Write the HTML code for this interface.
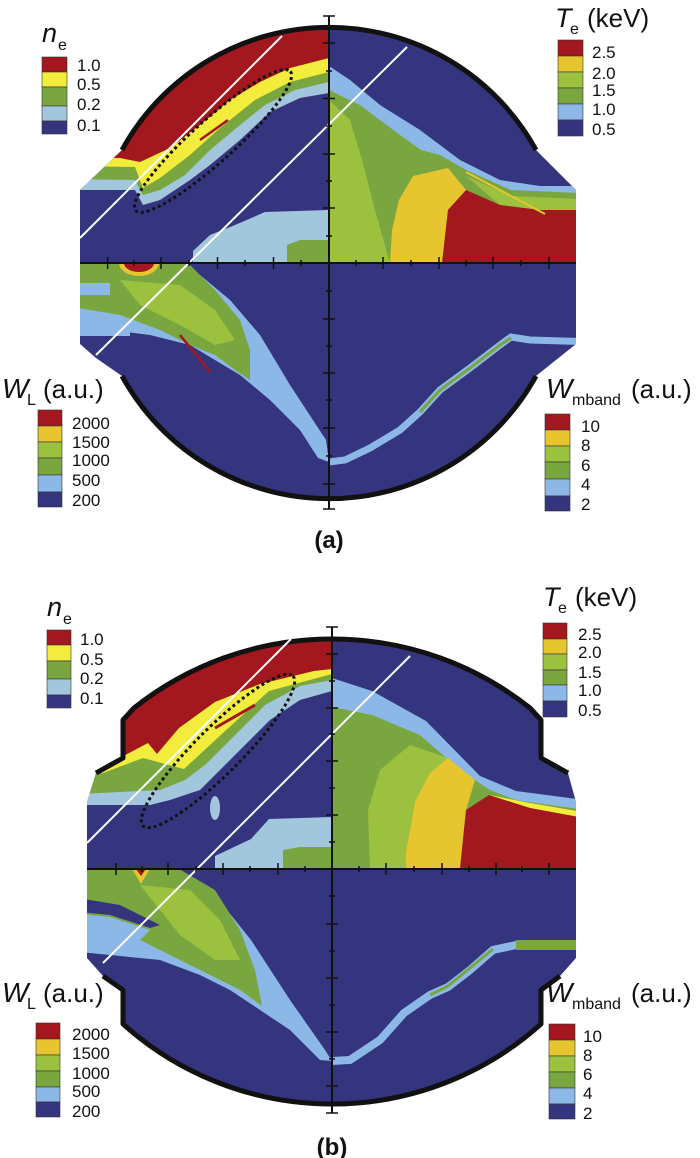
<!DOCTYPE html>
<html><head><meta charset="utf-8"><style>
html,body{margin:0;padding:0;background:#fff;}
svg{display:block;}
text{font-family:"Liberation Sans",sans-serif;fill:#111;}
</style></head><body>
<svg width="700" height="1158" viewBox="0 0 700 1158" xmlns="http://www.w3.org/2000/svg">
<defs>
<clipPath id="ca"><path d="M122,150 A236,236 0 0 1 536,150 L576,190 L576,344 L536,376 A236,236 0 0 1 122,376 L96,358 L80,344 L80,190 Z"/></clipPath>
<clipPath id="cb"><path d="M134,708 A318.6,318.6 0 0 1 530,708 L541,720 L541,758 L568,773 L576,802 L576,958 L560,976 L541,990 L541,1024 A313,313 0 0 1 123,1024 L123,990 L103,976 L87,958 L87,802 L96,773 L123,758 L123,720 Z"/></clipPath>
<clipPath id="a1"><rect x="0" y="0" width="329" height="263"/></clipPath>
<clipPath id="a2"><rect x="329" y="0" width="300" height="263"/></clipPath>
<clipPath id="a3"><rect x="0" y="263" width="329" height="300"/></clipPath>
<clipPath id="a4"><rect x="329" y="263" width="300" height="300"/></clipPath>
<clipPath id="b1"><rect x="0" y="580" width="332" height="289"/></clipPath>
<clipPath id="b2"><rect x="332" y="580" width="300" height="289"/></clipPath>
<clipPath id="b3"><rect x="0" y="869" width="332" height="289"/></clipPath>
<clipPath id="b4"><rect x="332" y="869" width="300" height="289"/></clipPath>
</defs>

<!-- ============ PANEL A ============ -->
<g clip-path="url(#ca)">
<rect x="60" y="0" width="540" height="540" fill="#35357f"/>
<g clip-path="url(#a1)">
 <polygon fill="#a2c6dc" points="60,0 329,0 329,93 300,98 270,112 240,140 210,165 190,180 160,200 143,205 135,190 60,190"/>
 <polygon fill="#7aa640" points="60,0 329,0 329,82 295,90 265,105 240,125 210,150 185,175 160,190 143,195 135,180 60,179"/>
 <polygon fill="#f2ec3c" points="60,0 329,0 329,72 290,82 255,100 220,128 190,155 160,178 143,188 135,167 60,166"/>
 <polygon fill="#a3181f" points="60,0 329,0 329,58 290,68 260,82 230,100 200,125 170,148 140,162 120,158 60,158"/>
 <line x1="200" y1="140" x2="228" y2="120" stroke="#a3181f" stroke-width="2.5"/>
 <polygon fill="#a2c6dc" points="193,263 193,251 210,235 235,225 265,212 329,210 329,263"/>
 <polygon fill="#7aa640" points="287,263 287,245 300,240 329,240 329,263"/>
</g>
<g clip-path="url(#a2)">
 <polygon fill="#8cb8e8" points="329,66 350,80 380,105 420,130 460,160 500,180 540,186 600,186 600,263 329,263"/>
 <polygon fill="#7aa640" points="329,90 360,105 400,135 421,150 440,155 466,170 511,190 600,194 600,263 329,263"/>
 <polygon fill="#9cc13f" points="329,100 350,120 362,160 375,210 390,263 329,263"/>
 <polygon fill="#9cc13f" points="466,176 511,196 600,200 600,210 540,210 500,205"/>
 <polygon fill="#e6c52f" points="390,263 392,230 399,200 413,176 448,168 466,190 448,210 442,263"/>
 <polygon fill="#a3181f" points="442,263 448,210 466,190 500,205 540,210 600,210 600,263"/>
 <line x1="466" y1="172" x2="545" y2="214" stroke="#e6c52f" stroke-width="2"/>
</g>
<g clip-path="url(#a3)">
 <polygon fill="#8cb8e8" points="60,275 200,275 230,300 260,335 290,385 326,440 329,462 318,458 300,430 270,400 240,375 215,360 190,345 150,335 110,330 60,330"/>
 <polygon fill="#7aa640" points="60,263 188,263 215,290 240,320 250,350 250,380 235,370 215,355 190,345 160,330 120,315 60,305"/>
 <polygon fill="#9cc13f" points="120,280 180,285 215,310 235,340 215,345 180,325 140,305"/>
 <rect x="60" y="283" width="50" height="12" fill="#8cb8e8"/>
 <rect x="60" y="318" width="70" height="18" fill="#8cb8e8"/>
 <ellipse cx="139" cy="263" rx="20" ry="13" fill="#e6c52f"/>
 <ellipse cx="139" cy="263" rx="15" ry="9" fill="#a3181f"/>
 <line x1="180" y1="335" x2="210" y2="372" stroke="#a3181f" stroke-width="2.5"/>
</g>
<g clip-path="url(#a4)">
 <polyline fill="none" stroke="#8cb8e8" stroke-width="7" points="329,462 345,460 370,448 400,430 420,412 440,390 470,368 500,345 511,337 530,340 600,342"/>
 <polyline fill="none" stroke="#7aa640" stroke-width="3" points="420,412 440,390 470,368 500,345 511,338"/>
</g>
</g>
<!-- outline A -->
<path d="M122,150 A236,236 0 0 1 536,150" fill="none" stroke="#111" stroke-width="5"/>
<path d="M122,376 A236,236 0 0 0 536,376" fill="none" stroke="#111" stroke-width="5"/>
<!-- white lines A -->
<line x1="80" y1="238" x2="282" y2="36" stroke="#fff" stroke-width="2"/>
<line x1="96" y1="355" x2="407" y2="47" stroke="#fff" stroke-width="2"/>
<ellipse cx="213" cy="141" rx="104" ry="21" transform="rotate(-42 213 141)" fill="none" stroke="#111" stroke-width="3" stroke-dasharray="3 3"/>
<!-- axes A -->
<g stroke="#111" stroke-width="2">
 <line x1="80" y1="263" x2="576" y2="263"/>
 <line x1="329" y1="16" x2="329" y2="509"/>
</g>
<g stroke="#111" stroke-width="1.5">
 <path d="M107.6,257v12M161,257v12M217.5,257v12M273.5,257v12M383,257v12M439,257v12M493,257v12M549,257v12"/>
 <path d="M134,260v6M189,260v6M245,260v6M301,260v6M356,260v6M411,260v6M466,260v6M521,260v6"/>
 <path d="M323,43h12M323,98.5h12M323,154h12M323,208h12M323,319h12M323,373h12M323,428h12M323,484h12M323,16h12M323,509h12"/>
 <path d="M326,71h6M326,126h6M326,181h6M326,236h6M326,291h6M326,346h6M326,400h6M326,456h6"/>
</g>

<!-- legends A -->
<text x="42" y="42" font-size="27" font-style="italic">n</text><text x="58" y="50" font-size="16">e</text>
<rect x="42" y="57" width="25" height="15" fill="#a3181f" stroke="#333" stroke-width=".6"/>
<rect x="42" y="72" width="25" height="15" fill="#f2ec3c" stroke="#333" stroke-width=".6"/>
<rect x="42" y="87" width="25" height="19" fill="#7aa640" stroke="#333" stroke-width=".6"/>
<rect x="42" y="106" width="25" height="15" fill="#a2c6dc" stroke="#333" stroke-width=".6"/>
<rect x="42" y="121" width="25" height="13" fill="#35357f" stroke="#333" stroke-width=".6"/>
<g font-size="17"><text x="77" y="71">1.0</text><text x="77" y="90">0.5</text><text x="77" y="110">0.2</text><text x="77" y="131">0.1</text></g>

<text x="555" y="27" font-size="27" font-style="italic">T</text><text x="570" y="34" font-size="16">e</text><text x="587" y="27" font-size="26">(keV)</text>
<rect x="558" y="40" width="25" height="16" fill="#a3181f" stroke="#333" stroke-width=".6"/>
<rect x="558" y="56" width="25" height="16" fill="#e6c52f" stroke="#333" stroke-width=".6"/>
<rect x="558" y="72" width="25" height="16" fill="#9cc13f" stroke="#333" stroke-width=".6"/>
<rect x="558" y="88" width="25" height="16" fill="#7aa640" stroke="#333" stroke-width=".6"/>
<rect x="558" y="104" width="25" height="16" fill="#8cb8e8" stroke="#333" stroke-width=".6"/>
<rect x="558" y="120" width="25" height="16" fill="#35357f" stroke="#333" stroke-width=".6"/>
<g font-size="17"><text x="592" y="58">2.5</text><text x="592" y="79">2.0</text><text x="592" y="96">1.5</text><text x="592" y="115">1.0</text><text x="592" y="135">0.5</text></g>

<text x="2" y="398" font-size="28" font-style="italic">W</text><text x="27" y="405" font-size="16">L</text><text x="43" y="398" font-size="26">(a.u.)</text>
<rect x="38" y="410" width="24" height="16" fill="#a3181f" stroke="#333" stroke-width=".6"/>
<rect x="38" y="426" width="24" height="16" fill="#e6c52f" stroke="#333" stroke-width=".6"/>
<rect x="38" y="442" width="24" height="16" fill="#9cc13f" stroke="#333" stroke-width=".6"/>
<rect x="38" y="458" width="24" height="17" fill="#7aa640" stroke="#333" stroke-width=".6"/>
<rect x="38" y="475" width="24" height="17" fill="#8cb8e8" stroke="#333" stroke-width=".6"/>
<rect x="38" y="492" width="24" height="15" fill="#35357f" stroke="#333" stroke-width=".6"/>
<g font-size="17"><text x="72" y="429">2000</text><text x="72" y="448">1500</text><text x="72" y="466">1000</text><text x="72" y="486">500</text><text x="72" y="506">200</text></g>

<text x="546" y="398" font-size="28" font-style="italic">W</text><text x="572" y="405" font-size="16">mband</text><text x="631" y="398" font-size="26">(a.u.)</text>
<rect x="545" y="414" width="25" height="16" fill="#a3181f" stroke="#333" stroke-width=".6"/>
<rect x="545" y="430" width="25" height="16" fill="#e6c52f" stroke="#333" stroke-width=".6"/>
<rect x="545" y="446" width="25" height="16" fill="#9cc13f" stroke="#333" stroke-width=".6"/>
<rect x="545" y="462" width="25" height="17" fill="#7aa640" stroke="#333" stroke-width=".6"/>
<rect x="545" y="479" width="25" height="17" fill="#8cb8e8" stroke="#333" stroke-width=".6"/>
<rect x="545" y="496" width="25" height="15" fill="#35357f" stroke="#333" stroke-width=".6"/>
<g font-size="17"><text x="581" y="432">10</text><text x="581" y="451">8</text><text x="581" y="471">6</text><text x="581" y="490">4</text><text x="581" y="510">2</text></g>

<text x="329" y="548" font-size="24" font-weight="bold" text-anchor="middle">(a)</text>

<!-- ============ PANEL B ============ -->
<g clip-path="url(#cb)">
<rect x="60" y="600" width="540" height="540" fill="#35357f"/>
<g clip-path="url(#b1)">
 <polygon fill="#a2c6dc" points="60,600 332,600 332,691 300,700 270,720 245,745 220,770 200,790 170,800 150,805 60,805"/>
 <polygon fill="#7aa640" points="60,600 332,600 332,680 300,686 265,705 235,735 205,765 185,780 160,790 60,795"/>
 <polygon fill="#f2ec3c" points="60,600 332,600 332,674 269,691 224,732 184,769 143,758 103,773 60,776"/>
 <polygon fill="#a3181f" points="60,600 332,600 332,669 314,671 260,684 215,702 179,728 157,754 148,743 114,761 60,761"/>
 <line x1="215" y1="728" x2="255" y2="705" stroke="#a3181f" stroke-width="3"/>
 <ellipse cx="215" cy="808" rx="5" ry="12" fill="#a2c6dc"/>
 <polygon fill="#a2c6dc" points="215,869 215,856 251,839 269,819 332,817 332,869"/>
 <polygon fill="#7aa640" points="283,869 283,850 300,847 332,847 332,869"/>
</g>
<g clip-path="url(#b2)">
 <polygon fill="#8cb8e8" points="332,678 372,691 426,721 480,776 516,791 600,802 600,869 332,869"/>
 <polygon fill="#7aa640" points="332,707 372,715 420,735 460,770 490,790 516,800 600,812 600,869 332,869"/>
 <polygon fill="#9cc13f" points="370,869 368,810 380,770 410,745 448,758 415,802 406,852 406,869"/>
 <polygon fill="#f2ec3c" points="489,795 530,803 600,815 600,821 530,808 489,798"/>
 <polygon fill="#e6c52f" points="406,869 406,852 415,802 430,773 448,758 475,780 466,810 460,869"/>
 <polygon fill="#a3181f" points="460,869 466,810 489,795 530,808 600,821 600,869"/>
</g>
<g clip-path="url(#b3)">
 <polygon fill="#8cb8e8" points="60,875 179,875 215,895 251,940 290,1000 325,1050 332,1061 320,1060 290,1030 260,1010 230,990 200,975 160,960 60,950"/>
 <polygon fill="#7aa640" points="60,869 179,869 215,890 240,930 255,970 262,1006 240,990 210,975 170,955 130,935 60,925"/>
 <polygon fill="#9cc13f" points="140,885 190,890 220,920 240,960 215,960 180,935"/>
 <polygon fill="#35357f" points="60,895 120,905 160,925 150,928 110,915 60,910"/>
 <polygon fill="#8cb8e8" points="60,912 110,917 150,930 140,940 60,935"/>
 <polygon fill="#e6c52f" points="132,869 150,869 141,884"/>
 <polygon fill="#a3181f" points="136,869 146,869 141,876"/>
</g>
<g clip-path="url(#b4)">
 <polyline fill="none" stroke="#8cb8e8" stroke-width="8" points="332,1061 350,1060 380,1040 404,1013 430,995 448,987 470,970 493,950 516,945 600,945"/>
 <polyline fill="none" stroke="#7aa640" stroke-width="3" points="430,995 448,986 470,968 493,949"/>
 <rect x="516" y="940" width="84" height="10" fill="#7aa640"/>
</g>
</g>
<!-- outline B -->
<path d="M96,773 L123,758 L123,720 L134,708 A318.6,318.6 0 0 1 530,708 L541,720 L541,758 L568,773" fill="none" stroke="#111" stroke-width="5" stroke-linejoin="round"/>
<path d="M103,976 L123,990 L123,1024 A313,313 0 0 0 541,1024 L541,990 L560,976" fill="none" stroke="#111" stroke-width="5" stroke-linejoin="round"/>
<line x1="87" y1="843" x2="291" y2="639" stroke="#fff" stroke-width="2"/>
<line x1="103" y1="963" x2="410" y2="656" stroke="#fff" stroke-width="2"/>
<ellipse cx="218" cy="751" rx="106" ry="23" transform="rotate(-45 218 751)" fill="none" stroke="#111" stroke-width="3" stroke-dasharray="3 3"/>
<g stroke="#111" stroke-width="2">
 <line x1="87" y1="869" x2="576" y2="869"/>
 <line x1="332" y1="627" x2="332" y2="1113"/>
</g>
<g stroke="#111" stroke-width="1.5">
 <path d="M116,863v12M168,863v12M223,863v12M278,863v12M386,863v12M442,863v12M496,863v12M549,863v12"/>
 <path d="M142,866v6M196,866v6M250,866v6M305,866v6M359,866v6M414,866v6M469,866v6M522,866v6"/>
 <path d="M326,627h12M326,654h12M326,708h12M326,761h12M326,815h12M326,924h12M326,978h12M326,1032h12M326,1086h12M326,1113h12"/>
 <path d="M329,681h6M329,734h6M329,788h6M329,842h6M329,896h6M329,951h6M329,1005h6M329,1059h6"/>
</g>

<!-- legends B -->
<text x="47" y="616" font-size="27" font-style="italic">n</text><text x="63" y="624" font-size="16">e</text>
<rect x="47" y="630" width="24" height="15" fill="#a3181f" stroke="#333" stroke-width=".6"/>
<rect x="47" y="645" width="24" height="16" fill="#f2ec3c" stroke="#333" stroke-width=".6"/>
<rect x="47" y="661" width="24" height="18" fill="#7aa640" stroke="#333" stroke-width=".6"/>
<rect x="47" y="679" width="24" height="16" fill="#a2c6dc" stroke="#333" stroke-width=".6"/>
<rect x="47" y="695" width="24" height="13" fill="#35357f" stroke="#333" stroke-width=".6"/>
<g font-size="17"><text x="80" y="645">1.0</text><text x="80" y="665">0.5</text><text x="80" y="684">0.2</text><text x="80" y="704">0.1</text></g>

<text x="543" y="606" font-size="27" font-style="italic">T</text><text x="558" y="613" font-size="16">e</text><text x="575" y="606" font-size="26">(keV)</text>
<rect x="543" y="623" width="24" height="16" fill="#a3181f" stroke="#333" stroke-width=".6"/>
<rect x="543" y="639" width="24" height="15" fill="#e6c52f" stroke="#333" stroke-width=".6"/>
<rect x="543" y="654" width="24" height="16" fill="#9cc13f" stroke="#333" stroke-width=".6"/>
<rect x="543" y="670" width="24" height="15" fill="#7aa640" stroke="#333" stroke-width=".6"/>
<rect x="543" y="685" width="24" height="16" fill="#8cb8e8" stroke="#333" stroke-width=".6"/>
<rect x="543" y="701" width="24" height="16" fill="#35357f" stroke="#333" stroke-width=".6"/>
<g font-size="17"><text x="578" y="640">2.5</text><text x="578" y="658">2.0</text><text x="578" y="678">1.5</text><text x="578" y="696">1.0</text><text x="578" y="716">0.5</text></g>

<text x="2" y="1002" font-size="28" font-style="italic">W</text><text x="27" y="1009" font-size="16">L</text><text x="43" y="1002" font-size="26">(a.u.)</text>
<rect x="36" y="1023" width="24" height="16" fill="#a3181f" stroke="#333" stroke-width=".6"/>
<rect x="36" y="1039" width="24" height="16" fill="#e6c52f" stroke="#333" stroke-width=".6"/>
<rect x="36" y="1055" width="24" height="16" fill="#9cc13f" stroke="#333" stroke-width=".6"/>
<rect x="36" y="1071" width="24" height="16" fill="#7aa640" stroke="#333" stroke-width=".6"/>
<rect x="36" y="1087" width="24" height="15" fill="#8cb8e8" stroke="#333" stroke-width=".6"/>
<rect x="36" y="1102" width="24" height="15" fill="#35357f" stroke="#333" stroke-width=".6"/>
<g font-size="17"><text x="72" y="1040">2000</text><text x="72" y="1059">1500</text><text x="72" y="1079">1000</text><text x="72" y="1097">500</text><text x="72" y="1117">200</text></g>

<text x="546" y="1002" font-size="28" font-style="italic">W</text><text x="572" y="1009" font-size="16">mband</text><text x="631" y="1002" font-size="26">(a.u.)</text>
<rect x="549" y="1024" width="26" height="16" fill="#a3181f" stroke="#333" stroke-width=".6"/>
<rect x="549" y="1040" width="26" height="16" fill="#e6c52f" stroke="#333" stroke-width=".6"/>
<rect x="549" y="1056" width="26" height="16" fill="#9cc13f" stroke="#333" stroke-width=".6"/>
<rect x="549" y="1072" width="26" height="16" fill="#7aa640" stroke="#333" stroke-width=".6"/>
<rect x="549" y="1088" width="26" height="16" fill="#8cb8e8" stroke="#333" stroke-width=".6"/>
<rect x="549" y="1104" width="26" height="15" fill="#35357f" stroke="#333" stroke-width=".6"/>
<g font-size="17"><text x="583" y="1042">10</text><text x="583" y="1061">8</text><text x="583" y="1080">6</text><text x="583" y="1099">4</text><text x="583" y="1119">2</text></g>

<text x="332" y="1155" font-size="24" font-weight="bold" text-anchor="middle">(b)</text>
</svg>
</body></html>
